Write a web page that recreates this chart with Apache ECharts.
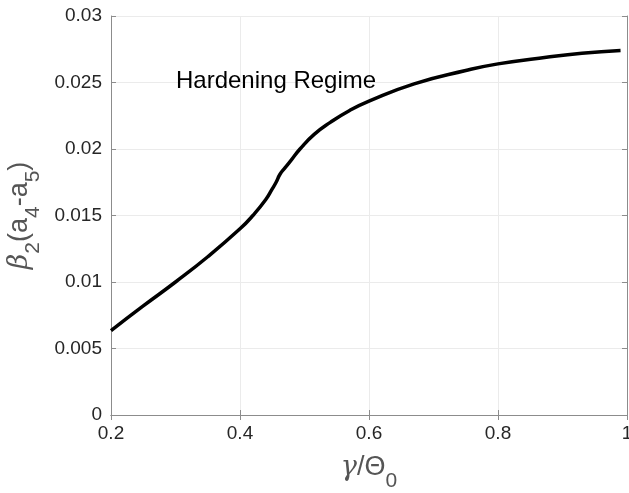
<!DOCTYPE html>
<html>
<head>
<meta charset="utf-8">
<script src="https://cdn.jsdelivr.net/npm/echarts@6/dist/echarts.min.js"></script>
<style>
  html, body { margin: 0; padding: 0; background: #fff; }
  #main { width: 629px; height: 493px; }
</style>
</head>
<body>
<div id="main"></div>
<script>
// gamma / Theta_0
const xValues = [0.20, 0.25, 0.30, 0.35, 0.40, 0.42, 0.44, 0.45, 0.456, 0.462, 0.470, 0.480, 0.493, 0.515, 0.54, 0.57, 0.60, 0.67, 0.75, 0.80, 0.875, 0.93, 0.99];
// beta_2 (a4 - a5)
const yValues = [0.00635, 0.0082, 0.0100, 0.0119, 0.0140, 0.0150, 0.0162, 0.0170, 0.0175, 0.0181, 0.0186, 0.0192, 0.0200, 0.0211, 0.0220, 0.0229, 0.0236, 0.0249, 0.0259, 0.0264, 0.0269, 0.0272, 0.0274];
const xTicks = [0.2, 0.4, 0.6, 0.8, 1];
const yTicks = [0, 0.005, 0.01, 0.015, 0.02, 0.025, 0.03];
const annotation = "Hardening Regime";

const font = "Liberation Sans, Arial, sans-serif";
const boxColor = "#8c8c8c";
const gridColor = "#ebebeb";
const labelColor = "#262626";
const nameColor = "#555";

const nameRich = {
    g: { fontFamily: "DejaVu Serif", fontStyle: "italic", fontSize: 27, color: nameColor, lineHeight: 48, verticalAlign: "middle" },
    n: { fontFamily: font, fontSize: 27, color: nameColor, lineHeight: 48, verticalAlign: "middle" },
    s: { fontFamily: font, fontSize: 21, color: nameColor, verticalAlign: "bottom" },
};

const myChart = echarts.init(document.getElementById("main"));

const boxAxis = {
    axisLabel: { show: false },
    splitLine: { show: false },
    axisLine: { show: true, lineStyle: { color: boxColor, width: 1 } },
    axisTick: { show: true, inside: true, length: 5, lineStyle: { color: boxColor } },
};

const option = {
    animation: false,
    backgroundColor: "#fff",
    grid: { left: 111, right: 2, top: 16, bottom: 78, outerBoundsMode: "none" },
    xAxis: [
        {
            type: "value",
            min: xTicks[0],
            max: xTicks[xTicks.length - 1],
            interval: 0.2,
            name: "{g|γ}{n|/Θ}{s|0}",
            nameLocation: "middle",
            nameGap: 29,
            nameTextStyle: { rich: nameRich },
            axisLine: { show: true, onZero: false, lineStyle: { color: boxColor, width: 1 } },
            axisTick: { show: true, inside: true, length: 5, lineStyle: { color: boxColor } },
            axisLabel: {
                color: labelColor,
                fontFamily: font,
                fontSize: 19,
                margin: 9,
                formatter: (v) => String(+v.toFixed(1)),
            },
            splitLine: { show: true, lineStyle: { color: gridColor, width: 1 } },
        },
        Object.assign({ type: "value", position: "top", min: 0.2, max: 1, interval: 0.2 }, boxAxis),
    ],
    yAxis: [
        {
            type: "value",
            min: yTicks[0],
            max: yTicks[yTicks.length - 1],
            interval: 0.005,
            name: "{g|β}{s|2}{n|(a}{s|4}{n|-a}{s|5}{n|)}",
            nameLocation: "middle",
            nameGap: 59,
            nameRotate: 90,
            nameTextStyle: { rich: nameRich },
            axisLine: { show: true, lineStyle: { color: boxColor, width: 1 } },
            axisTick: { show: true, inside: true, length: 5, lineStyle: { color: boxColor } },
            axisLabel: {
                color: labelColor,
                fontFamily: font,
                fontSize: 19,
                margin: 9,
                formatter: (v) => String(+v.toFixed(3)),
            },
            splitLine: { show: true, lineStyle: { color: gridColor, width: 1 } },
        },
        Object.assign({ type: "value", position: "right", min: 0, max: 0.03, interval: 0.005 }, boxAxis),
    ],
    graphic: [
        {
            type: "text",
            left: 176,
            top: 69,
            z: 10,
            style: { text: annotation, font: "24px " + font, fill: "#000" },
        },
    ],
    series: [
        {
            type: "line",
            data: xValues.map((x, i) => [x, yValues[i]]),
            smooth: 0.5,
            showSymbol: false,
            lineStyle: { color: "#000", width: 3.5 },
        },
    ],
};

myChart.setOption(option);
</script>
</body>
</html>
